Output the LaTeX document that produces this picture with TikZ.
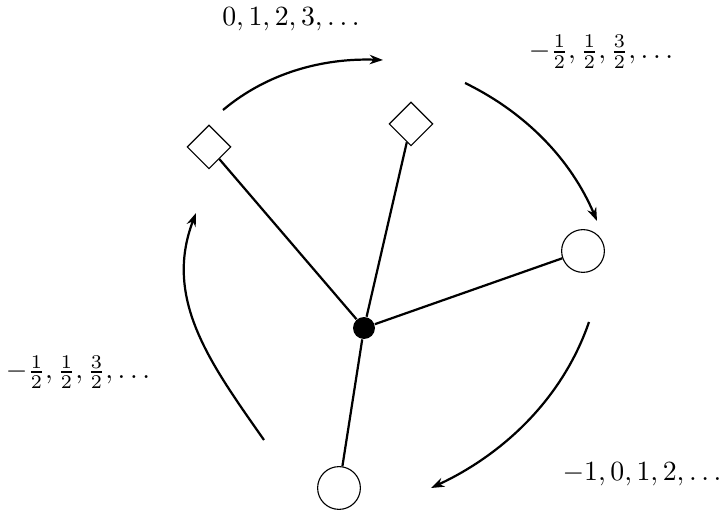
\documentclass[tikz,border=0pt]{standalone}
\usetikzlibrary{shapes.geometric,arrows.meta}
\begin{document}
\begin{tikzpicture}[x=0.36pt,y=-0.36pt,
  dmd/.style={draw,thin,diamond,aspect=1,minimum width=15.8pt,minimum height=15.8pt,inner sep=0pt},
  circ/.style={draw,thin,circle,minimum size=15.4pt,inner sep=0pt},
  hub/.style={fill=black,circle,minimum size=7.9pt,inner sep=0pt},
  edge/.style={thick},
  flow/.style={thick,-{Stealth[length=4.8pt,width=3.4pt]}},
  lbl/.style={inner sep=0pt}]
\useasboundingbox (0,0) rectangle (721,510);
\node[hub] (c) at (364,328) {};
\node[dmd] (d1) at (209,147) {};
\node[dmd] (d2) at (411,124) {};
\node[circ] (r) at (583,251) {};
\node[circ] (b) at (339,488) {};
\draw[edge] (c) -- (d1);
\draw[edge] (c) -- (d2);
\draw[edge] (c) -- (r);
\draw[edge] (c) -- (b);
\coordinate (a1s) at (223,110); \coordinate (a1e) at (383,60);
\coordinate (a2s) at (465,83); \coordinate (a2e) at (597,221);
\coordinate (a3s) at (589,322); \coordinate (a3e) at (431,488);
\coordinate (a4s) at (264,440); \coordinate (a4e) at (196,213);
\draw[flow] (a1s) to[out=40,in=178,looseness=0.9] (a1e);
\draw[flow] (a2s) to[out=-26,in=113,looseness=0.9] (a2e);
\draw[flow] (a3s) to[out=-109,in=25,looseness=0.9] (a3e);
\draw[flow] (a4s) to[out=125,in=-111] (a4e);
\node[lbl] (l1) at (291,19) {$0,1,2,3,\dots$};
\node[lbl] (l2) at (601,52) {$-\frac{1}{2},\frac{1}{2},\frac{3}{2},\dots$};
\node[lbl] (l3) at (78,372) {$-\frac{1}{2},\frac{1}{2},\frac{3}{2},\dots$};
\node[lbl] (l4) at (642,474) {$-1,0,1,2,\dots$};
\end{tikzpicture}
\end{document}
